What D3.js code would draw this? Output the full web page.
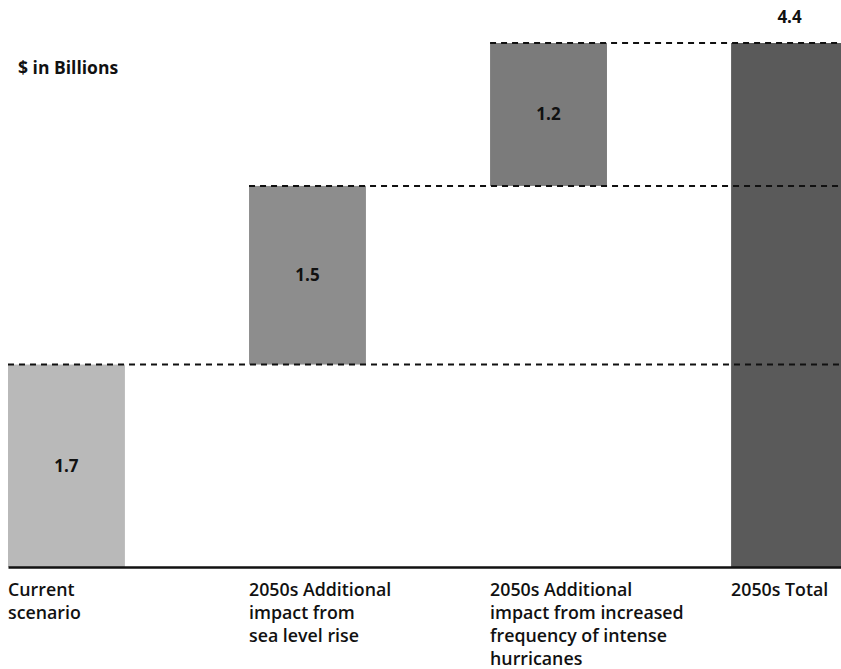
<!DOCTYPE html>
<html>
<head>
<meta charset="utf-8">
<script src="https://cdn.jsdelivr.net/npm/d3@7"></script>
<style>
  html, body { margin: 0; padding: 0; background: #fff; }
  svg { display: block; }
  text { font-family: "Open Sans", Lato, sans-serif; fill: #111; }
</style>
</head>
<body>
<svg id="chart" width="841" height="669"></svg>
<script>
// Waterfall steps ($ in billions)
const categories = [
  ["Current", "scenario"],
  ["2050s Additional", "impact from", "sea level rise"],
  ["2050s Additional", "impact from increased", "frequency of intense", "hurricanes"],
  ["2050s Total"]
];
const stepValues = [1.7, 1.5, 1.2];
const totalValue = 4.4;
const barColors = ["#b9b9b9", "#8d8d8d", "#7b7b7b", "#5a5a5a"];

// Build waterfall segments: start/end per bar
let running = 0;
const bars = stepValues.map((v, i) => {
  const d = { i, start: running, end: running + v, value: v, label: v.toFixed(1), isTotal: false };
  running += v;
  return d;
});
bars.push({ i: 3, start: 0, end: totalValue, value: totalValue, label: totalValue.toFixed(1), isTotal: true });

const svg = d3.select("#chart");
const W = 841, H = 669;
const baseY = 567, topY = 43;

const x = d3.scaleBand()
  .domain(d3.range(categories.length))
  .range([8, 848])
  .paddingInner(0.515)
  .paddingOuter(0);

const y = d3.scaleLinear().domain([0, totalValue]).range([baseY, topY]);

// Bars
svg.append("g").selectAll("rect")
  .data(bars)
  .join("rect")
  .attr("x", d => x(d.i))
  .attr("width", x.bandwidth())
  .attr("y", d => y(d.end))
  .attr("height", d => y(d.start) - y(d.end))
  .attr("fill", d => barColors[d.i]);

// Dashed connectors from each step's top across to the right edge
svg.append("g").selectAll("line")
  .data(bars.filter(d => !d.isTotal))
  .join("line")
  .attr("x1", d => x(d.i))
  .attr("x2", W)
  .attr("y1", d => y(d.end))
  .attr("y2", d => y(d.end))
  .attr("stroke", "#111")
  .attr("stroke-width", 2)
  .attr("stroke-dasharray", "6,5");

// Value labels
svg.append("g").selectAll("text")
  .data(bars)
  .join("text")
  .attr("x", d => x(d.i) + x.bandwidth() / 2)
  .attr("y", d => d.isTotal ? y(d.end) - 26 : (y(d.start) + y(d.end)) / 2)
  .attr("dy", "0.35em")
  .attr("text-anchor", "middle")
  .attr("font-weight", "bold")
  .attr("font-size", 17)
  .text(d => d.label);

// Baseline axis
const axis = d3.axisBottom(d3.scaleLinear().domain([0, 1]).range([8, W])).ticks(0).tickSize(0).tickFormat("");
const axisG = svg.append("g").attr("transform", `translate(0,${baseY})`).call(axis);
axisG.select(".domain").attr("stroke", "#111").attr("stroke-width", 2.5);

// Category labels
const catG = svg.append("g").selectAll("text")
  .data(categories)
  .join("text")
  .attr("x", (d, i) => x(i))
  .attr("y", 596)
  .attr("font-size", 17.8)
  .attr("font-weight", 600);
catG.selectAll("tspan")
  .data(d => d)
  .join("tspan")
  .attr("x", function () { return d3.select(this.parentNode).attr("x"); })
  .attr("dy", (d, j) => j === 0 ? 0 : 23)
  .text(d => d);

// Unit label
svg.append("text")
  .attr("x", 18)
  .attr("y", 74)
  .attr("font-weight", "bold")
  .attr("font-size", 17.5)
  .text("$ in Billions");
</script>
</body>
</html>
